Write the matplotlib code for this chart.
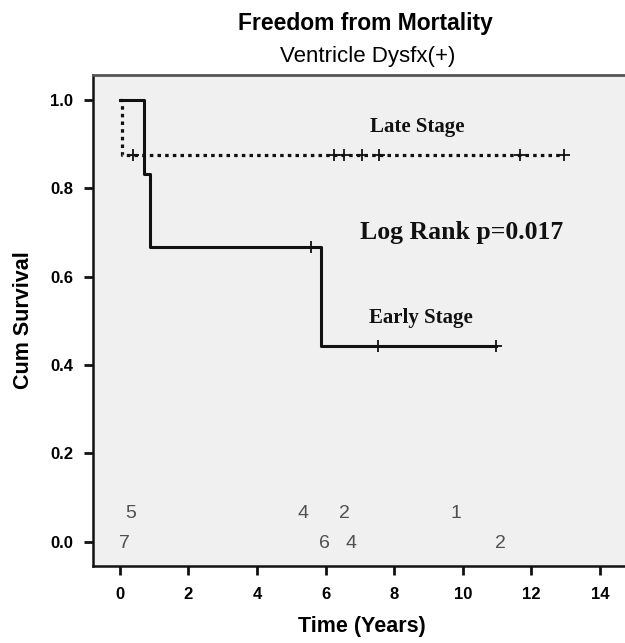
import matplotlib
matplotlib.use("Agg")
import matplotlib.pyplot as plt

# Kaplan-Meier steps (time in years, cumulative survival)
early_times = [0, 0.70, 0.87, 5.86, 10.97]
early_surv = [1.0, 0.833, 0.667, 0.444, 0.444]
early_cens_t = [5.57, 7.53, 10.97]
early_cens_s = [0.667, 0.444, 0.444]

late_times = [0, 0.05, 12.94]
late_surv = [1.0, 0.875, 0.875]
late_cens_t = [0.39, 6.25, 6.54, 7.07, 7.56, 11.67, 12.94]
late_cens_s = [0.875] * 7

# numbers printed near the bottom of the panel
risk_top_x = [0.31, 5.34, 6.56, 9.80]
risk_top_lbl = ['5', '4', '2', '1']
risk_bot_x = [0.12, 5.96, 6.74, 11.10]
risk_bot_lbl = ['7', '6', '4', '2']

x_ticks = [0, 2, 4, 6, 8, 10, 12, 14]
y_ticks = [0.0, 0.2, 0.4, 0.6, 0.8, 1.0]

plt.rcParams['font.family'] = 'Liberation Sans'

fig = plt.figure(figsize=(6.25, 6.43), dpi=100)
ax = fig.add_axes([0.1493, 0.1198, 0.86, 0.7636])
ax.set_facecolor('#f0f0f0')

ax.step(early_times, early_surv, where='post', color='#111111', lw=2.2)
ax.step(late_times, late_surv, where='post', color='#111111', lw=2.3,
        linestyle=(0, (1.1, 1.3)))
ax.plot(early_cens_t, early_cens_s, '+', color='#111111', ms=9, mew=1.3)
ax.plot(late_cens_t, late_cens_s, '+', color='#111111', ms=9, mew=1.3)

serif = 'Liberation Serif'
ax.text(8.67, 0.94, 'Late Stage', family=serif, fontweight='bold',
        fontsize=15, ha='center', va='center', color='#111111')
ax.text(9.97, 0.70, 'Log Rank p=0.017', family=serif, fontweight='bold',
        fontsize=18.5, ha='center', va='center', color='#111111')
ax.text(8.77, 0.506, 'Early Stage', family=serif, fontweight='bold',
        fontsize=15, ha='center', va='center', color='#111111')

for x, s in zip(risk_top_x, risk_top_lbl):
    ax.text(x, 0.063, s, fontsize=14, ha='center', va='center', color='#505050')
for x, s in zip(risk_bot_x, risk_bot_lbl):
    ax.text(x, -0.003, s, fontsize=14, ha='center', va='center', color='#505050')

ax.set_xlim(-0.776, 14.9)
ax.set_ylim(-0.055, 1.057)
ax.set_xticks(x_ticks)
ax.set_yticks(y_ticks)
ax.set_yticklabels(['%.1f' % v for v in y_ticks])
ax.tick_params(direction='out', length=6.5, width=2, color='#111111',
               labelsize=12)
ax.tick_params(axis='y', pad=8)
ax.tick_params(axis='x', pad=9)
for lbl in ax.get_xticklabels() + ax.get_yticklabels():
    lbl.set_fontweight('bold')

for side in ['left', 'bottom']:
    ax.spines[side].set_linewidth(1.8)
    ax.spines[side].set_color('#111111')
ax.spines['top'].set_linewidth(2.0)
ax.spines['top'].set_color('#555555')
ax.spines['right'].set_visible(False)

ax.set_xlabel('Time (Years)', fontsize=15.5, fontweight='bold', labelpad=10)
ax.set_ylabel('Cum Survival', fontsize=15.5, fontweight='bold', labelpad=12)

fig.text(0.584, 0.953, 'Freedom from Mortality', fontsize=16.5,
         fontweight='bold', ha='center', va='baseline')
fig.text(0.588, 0.904, 'Ventricle Dysfx(+)', fontsize=16, ha='center',
         va='baseline')

fig.savefig('out.png', dpi=100, facecolor='white')
